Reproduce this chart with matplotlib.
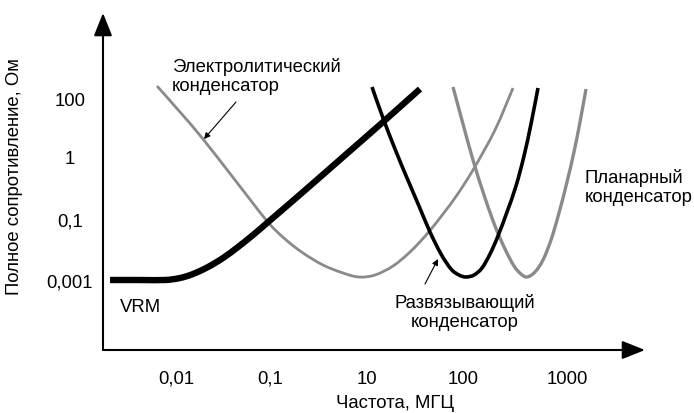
import matplotlib
matplotlib.use("Agg")
import matplotlib.pyplot as plt
from matplotlib.path import Path
from matplotlib.patches import PathPatch

plt.rcParams['font.family'] = ['Liberation Sans', 'DejaVu Sans']

# Axis tick positions (schematic axis units) and labels
x_tick_pos = [73, 167, 264, 360, 464]
x_tick_labels = ['0,01', '0,1', '10', '100', '1000']
y_tick_pos = [251, 192, 130, 69]
y_tick_labels = ['100', '1', '0,1', '0,001']

# Curves (schematic units)
vrm_x = [7, 37, 62, 77, 90, 105, 120, 135, 150, 164, 200, 240, 280, 317]
vrm_y = [70, 70, 70, 72, 76, 83, 92, 103, 115, 127, 158, 193, 228, 261]

elec_x = [54, 77, 100, 132, 164, 182, 200, 220, 240, 256, 272, 290, 307, 324, 340, 354, 370, 392, 410]
elec_y = [264, 238, 211, 170, 129, 111, 97, 85, 77, 73, 75, 84, 98, 116, 136, 155, 180, 220, 262]

decap_x = [269, 280, 292, 304, 316, 327, 338, 348, 356, 363, 371, 379, 387, 395, 404, 413, 421, 428, 435]
decap_y = [263, 232, 201, 172, 144, 118, 96, 81, 75, 73, 75, 82, 96, 114, 138, 164, 194, 226, 262]

planar_x = [350, 360, 370, 381, 392, 402, 411, 418, 424, 432, 440, 448, 456, 464, 471, 477, 483]
planar_y = [263, 226, 190, 155, 124, 101, 84, 76, 73, 78, 90, 110, 137, 168, 198, 228, 261]

GRAY = '#8a8a8a'


def smooth_path(xs, ys):
    """Bezier path through the read points (Catmull-Rom style handles)."""
    pts = list(zip(xs, ys))
    n = len(pts)
    verts = [pts[0]]
    codes = [Path.MOVETO]
    for i in range(n - 1):
        p0 = pts[i - 1] if i > 0 else pts[i]
        p1 = pts[i]
        p2 = pts[i + 1]
        p3 = pts[i + 2] if i + 2 < n else pts[i + 1]
        c1 = (p1[0] + (p2[0] - p0[0]) / 6.0, p1[1] + (p2[1] - p0[1]) / 6.0)
        c2 = (p2[0] - (p3[0] - p1[0]) / 6.0, p2[1] - (p3[1] - p1[1]) / 6.0)
        verts += [c1, c2, p2]
        codes += [Path.CURVE4, Path.CURVE4, Path.CURVE4]
    return Path(verts, codes)


fig = plt.figure(figsize=(6.94, 4.13), dpi=100)
W, H = 694, 413
ax = fig.add_axes([103 / W, (413 - 350) / H, (645 - 103) / W, (350 - 13) / H])
ax.set_xlim(0, 542)
ax.set_ylim(0, 337)
for s in ax.spines.values():
    s.set_visible(False)

# axes with arrows
ax.annotate('', xy=(542, 0), xytext=(0, 0), annotation_clip=False,
            arrowprops=dict(arrowstyle='-|>,head_length=0.5,head_width=0.2', color='black', lw=1.5,
                            mutation_scale=28, shrinkA=0, shrinkB=0))
ax.annotate('', xy=(0, 337), xytext=(0, 0), annotation_clip=False,
            arrowprops=dict(arrowstyle='-|>,head_length=0.5,head_width=0.2', color='black', lw=1.5,
                            mutation_scale=28, shrinkA=0, shrinkB=0))

for xs, ys, col, lw in [(elec_x, elec_y, GRAY, 2.0),
                        (planar_x, planar_y, GRAY, 2.4),
                        (decap_x, decap_y, 'black', 2.6),
                        (vrm_x, vrm_y, 'black', 4.6)]:
    ax.add_patch(PathPatch(smooth_path(xs, ys), facecolor='none', edgecolor=col,
                           lw=lw, capstyle='butt', joinstyle='round'))

FS = 13.3
ax.set_xticks(x_tick_pos)
ax.set_xticklabels(x_tick_labels, fontsize=FS)
ax.set_yticks(y_tick_pos)
ax.set_yticklabels(y_tick_labels, fontsize=FS, ha='center')
ax.tick_params(axis='x', length=0, pad=15)
ax.tick_params(axis='y', length=0, pad=24)

ax.set_xlabel('Частота, МГЦ', fontsize=FS, va='center')
ax.xaxis.set_label_coords((395 - 103) / 542, (350 - 404) / 337)
ax.set_ylabel('Полное сопротивление, Ом', fontsize=FS, va='center')
ax.yaxis.set_label_coords((15 - 103) / 542, (350 - 177) / 337)

ax.text(69, 273.5, 'Электролитический\nконденсатор', fontsize=FS, ha='left', va='center',
        linespacing=1.15)
ax.text(17, 43, 'VRM', fontsize=FS, ha='left', va='center')
ax.text(482, 162.5, 'Планарный\nконденсатор', fontsize=FS, ha='left', va='center',
        linespacing=1.15)
ax.text(362, 37.5, 'Развязывающий\nконденсатор', fontsize=FS, ha='center', va='center',
        multialignment='center', linespacing=1.15)

ax.annotate('', xy=(101, 211), xytext=(133, 248),
            arrowprops=dict(arrowstyle='-|>', color='black', lw=0.8,
                            mutation_scale=9, shrinkA=0, shrinkB=0))
ax.annotate('', xy=(335, 91), xytext=(322, 66),
            arrowprops=dict(arrowstyle='-|>', color='black', lw=0.8,
                            mutation_scale=9, shrinkA=0, shrinkB=0))

fig.savefig('out.png', dpi=100)
